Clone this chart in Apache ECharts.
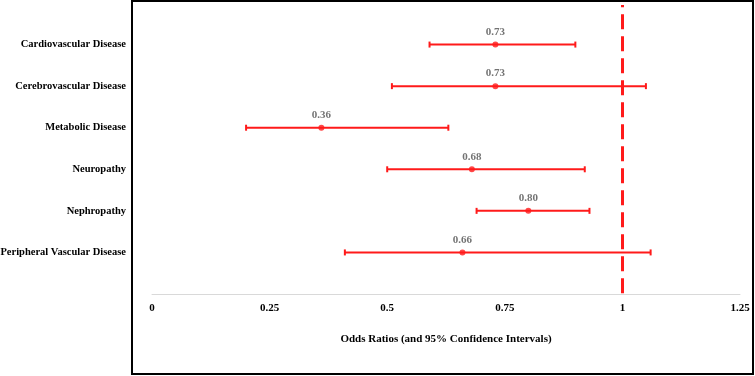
<!DOCTYPE html>
<html>
<head>
<meta charset="utf-8">
<script src="https://cdn.jsdelivr.net/npm/echarts@6/dist/echarts.min.js"></script>
<style>
html,body{margin:0;padding:0;background:#fff;}
#main{width:755px;height:376px;}
</style>
</head>
<body>
<div id="main"></div>
<script>
// outcomes, top to bottom
var categories=['Cardiovascular Disease','Cerebrovascular Disease','Metabolic Disease','Neuropathy','Nephropathy','Peripheral Vascular Disease'];
var oddsRatio=[0.73,0.73,0.36,0.68,0.80,0.66];
var ciLow=[0.59,0.51,0.20,0.50,0.69,0.41];
var ciHigh=[0.90,1.05,0.63,0.92,0.93,1.06];
var xTicks=[0,0.25,0.5,0.75,1,1.25];

var font='"Liberation Serif","Times New Roman",serif';
var red='#ff1a1a';
var n=categories.length;

// row position: first category on top
function rowY(i){return n-i;}

var pts=[],bars=[];
for(var i=0;i<n;i++){
	pts.push([oddsRatio[i],rowY(i)]);
	bars.push([ciLow[i],ciHigh[i],rowY(i)]);
}

var myChart=echarts.init(document.getElementById('main'));
myChart.setOption({
	animation:false,
	graphic:[{
		type:'rect',
		shape:{x:132,y:1,width:621,height:373},
		style:{fill:'none',stroke:'#000',lineWidth:2},
		silent:true
	}],
	grid:{left:152,right:15,top:3,bottom:82,containLabel:false,outerBoundsMode:'none'},
	xAxis:{
		type:'value',min:0,max:1.25,interval:0.25,
		axisLine:{show:true,lineStyle:{color:'#d9d9d9',width:1}},
		axisTick:{show:false},
		splitLine:{show:false},
		axisLabel:{
			margin:9,color:'#000',fontFamily:font,fontWeight:'bold',fontSize:11,
			formatter:function(v){return xTicks.indexOf(v)>=0?String(v):'';}
		},
		name:'Odds Ratios (and 95% Confidence Intervals)',
		nameLocation:'middle',nameGap:40,
		nameTextStyle:{color:'#000',fontFamily:font,fontWeight:'bold',fontSize:11}
	},
	yAxis:{
		type:'value',min:0,max:n+1,interval:1,
		axisLine:{show:false},axisTick:{show:false},splitLine:{show:false},
		axisLabel:{
			margin:26,color:'#000',fontFamily:font,fontWeight:'bold',fontSize:10.5,
			formatter:function(v){var k=n-v;return (k>=0&&k<n&&v>0)?categories[k]:'';}
		}
	},
	series:[{
		type:'custom',
		data:bars,
		renderItem:function(params,api){
			var a=api.coord([api.value(0),api.value(2)]);
			var b=api.coord([api.value(1),api.value(2)]);
			var h=3;
			var st={stroke:red,lineWidth:2};
			return {type:'group',children:[
				{type:'line',shape:{x1:a[0],y1:a[1],x2:b[0],y2:b[1]},style:st},
				{type:'line',shape:{x1:a[0],y1:a[1]-h,x2:a[0],y2:a[1]+h},style:st},
				{type:'line',shape:{x1:b[0],y1:b[1]-h,x2:b[0],y2:b[1]+h},style:st}
			]};
		},
		z:2
	},{
		type:'scatter',
		data:pts,
		symbol:'circle',symbolSize:6,
		itemStyle:{color:red},
		label:{
			show:true,position:'top',distance:4,
			color:'#505050',fontFamily:font,fontWeight:'bold',fontSize:11,
			formatter:function(p){return p.value[0].toFixed(2);}
		},
		z:3,
		markLine:{
			silent:true,symbol:'none',
			label:{show:false},
			lineStyle:{color:red,width:3,type:[15,7]},
			data:[[{coord:[1,0.02]},{coord:[1,n+0.95]}]]
		}
	}]
});
</script>
</body>
</html>
